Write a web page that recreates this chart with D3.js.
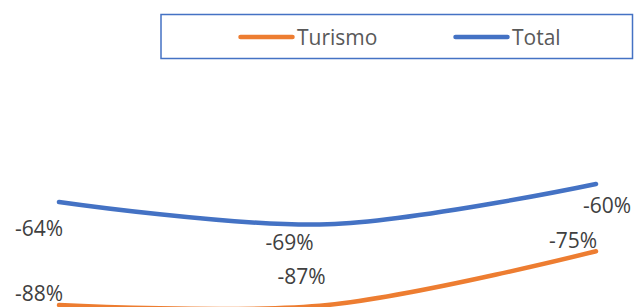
<!DOCTYPE html>
<html>
<head>
<meta charset="utf-8">
<script src="https://cdn.jsdelivr.net/npm/d3@7"></script>
<style>
  html, body { margin: 0; padding: 0; background: #fff; }
  svg { display: block; font-family: "Open Sans", "Liberation Sans", Arial, sans-serif; }
</style>
</head>
<body>
<div id="chart"></div>
<script>
// Data
const periods = ["P1", "P2", "P3"];
const turismo = [-88, -87, -75];
const total = [-64, -69, -60];
const seriesNames = ["Turismo", "Total"];

const width = 642;
const height = 307;
const colors = { Turismo: "#ED7D31", Total: "#4472C4" };

// Data label nudges [dx, dy] from each plotted point
const labelNudge = {
  Turismo: [[-20, -4], [-26, -21], [-23, -3]],
  Total: [[-20, 34], [-38, 26], [11, 29]]
};

const svg = d3.select("#chart")
  .append("svg")
    .attr("width", width)
    .attr("height", height);

/****************************/
/*    Declare the scales    */
/****************************/
const xScale = d3.scalePoint()
  .domain(periods)
  .range([59, 596]);

// The plot area bottom sits at -87; lower values stay on the edge
const yScale = d3.scaleLinear()
  .domain([-60, -87])
  .range([184, 305])
  .clamp(true);

const line = d3.line()
  .x((d, i) => xScale(periods[i]))
  .y(d => yScale(d))
  .curve(d3.curveCatmullRom.alpha(0));

const series = [
  { name: "Turismo", values: turismo },
  { name: "Total", values: total }
];

/*************************/
/*    Lines and labels   */
/*************************/
svg.selectAll(".series")
  .data(series)
  .join("path")
    .attr("class", "series")
    .attr("d", d => line(d.values))
    .attr("fill", "none")
    .attr("stroke", d => colors[d.name])
    .attr("stroke-width", 4.5)
    .attr("stroke-linecap", "round");

series.forEach(s => {
  svg.selectAll(`.label-${s.name}`)
    .data(s.values)
    .join("text")
      .attr("class", `label-${s.name}`)
      .text(d => `${d}%`)
      .attr("text-anchor", "middle")
      .attr("x", (d, i) => xScale(periods[i]) + labelNudge[s.name][i][0])
      .attr("y", (d, i) => yScale(d) + labelNudge[s.name][i][1])
      .attr("fill", "#404040")
      .style("font-size", "21px");
});

/****************/
/*    Legend    */
/****************/
const legend = svg.append("g");
legend.append("rect")
  .attr("x", 161)
  .attr("y", 14.5)
  .attr("width", 471.5)
  .attr("height", 44)
  .attr("fill", "none")
  .attr("stroke", "#4472C4")
  .attr("stroke-width", 1.5);

const legendX = d3.scalePoint()
  .domain(seriesNames)
  .range([238, 453]);

const items = legend.selectAll(".legend-item")
  .data(seriesNames)
  .join("g")
    .attr("class", "legend-item")
    .attr("transform", d => `translate(${legendX(d)}, 37)`);

items.append("line")
  .attr("x1", 2.5).attr("x2", 54.5)
  .attr("stroke", d => colors[d])
  .attr("stroke-width", 4.5)
  .attr("stroke-linecap", "round");

items.append("text")
  .text(d => d)
  .attr("x", 59)
  .attr("dy", "0.36em")
  .attr("fill", "#595959")
  .style("font-size", "21px");
</script>
</body>
</html>
